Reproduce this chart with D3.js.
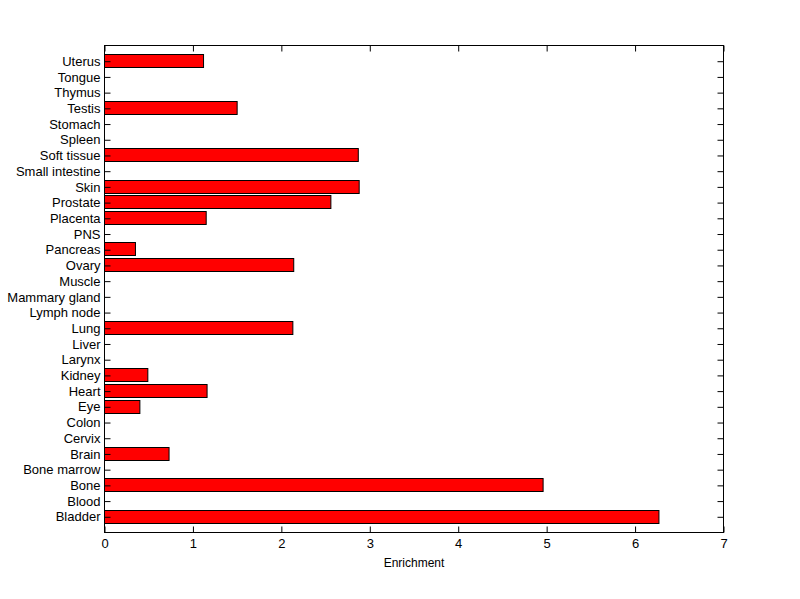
<!DOCTYPE html>
<meta charset="utf-8">
<script src="https://d3js.org/d3.v7.min.js"></script>
<style>
  body { margin: 0; background: #fff; }
  text { font-family: Arial, "Liberation Sans", sans-serif; font-size: 13px; fill: #000; }
</style>
<svg id="chart" width="800" height="599"></svg>
<script>

// categories, bottom to top
var tissues = ["Bladder", "Blood", "Bone", "Bone marrow", "Brain", "Cervix", "Colon", "Eye",
  "Heart", "Kidney", "Larynx", "Liver", "Lung", "Lymph node", "Mammary gland", "Muscle",
  "Ovary", "Pancreas", "PNS", "Placenta", "Prostate", "Skin", "Small intestine",
  "Soft tissue", "Spleen", "Stomach", "Testis", "Thymus", "Tongue", "Uterus"];

var enrichment = [6.27, 0, 4.96, 0, 0.73, 0, 0, 0.40,
  1.16, 0.49, 0, 0, 2.13, 0, 0, 0,
  2.14, 0.35, 0, 1.15, 2.56, 2.88, 0,
  2.87, 0, 0, 1.50, 0, 0, 1.12];

var xTicks = [0, 1, 2, 3, 4, 5, 6, 7];

var svg = d3.select("#chart");
var mLeft = 104.5, mRight = 723.5, mTop = 45.5, mBottom = 532.5;
var font = "Arial, 'Liberation Sans', sans-serif";

var x = d3.scaleLinear().domain([0, 7]).range([mLeft, mRight]);
// positions 1..n, axis limits 0..n+1 like matlab bar
var y = d3.scaleLinear().domain([0, tissues.length + 1]).range([mBottom, mTop]);
var barH = y(0) - y(0.8);

var data = tissues.map(function (t, i) { return { name: t, value: enrichment[i], pos: i + 1 }; });

// bars
svg.append("g")
  .selectAll("rect")
  .data(data.filter(function (d) { return d.value > 0; }))
  .enter()
  .append("rect")
    .attr("x", x(0))
    .attr("y", function (d) { return Math.round(y(d.pos) - barH / 2) - 0.5; })
    .attr("width", function (d) { return x(d.value) - x(0); })
    .attr("height", Math.round(barH))
    .attr("fill", "#ff0000")
    .attr("stroke", "#000")
    .attr("stroke-width", 1);

// box
svg.append("rect")
  .attr("x", mLeft).attr("y", mTop)
  .attr("width", mRight - mLeft).attr("height", mBottom - mTop)
  .attr("fill", "none").attr("stroke", "#000").attr("stroke-width", 1);

var tickLen = 6;

// x ticks bottom and top, inward
var xAxisB = d3.axisBottom(x).tickValues(xTicks).tickSizeInner(-tickLen).tickSizeOuter(0)
  .tickPadding(6).tickFormat(d3.format("d"));
var gxb = svg.append("g").attr("transform", "translate(0," + mBottom + ")").call(xAxisB);
gxb.select(".domain").remove();
gxb.selectAll("text").style("font-size", "13px").style("font-family", font);

var xAxisT = d3.axisTop(x).tickValues(xTicks).tickSizeInner(-tickLen).tickSizeOuter(0).tickFormat("");
var gxt = svg.append("g").attr("transform", "translate(0," + mTop + ")").call(xAxisT);
gxt.select(".domain").remove();

// y ticks left and right, inward
var yTickVals = data.map(function (d) { return d.pos; });
var yAxisL = d3.axisLeft(y).tickValues(yTickVals).tickSizeInner(-tickLen).tickSizeOuter(0)
  .tickPadding(4)
  .tickFormat(function (v) { return tissues[v - 1]; });
var gyl = svg.append("g").attr("transform", "translate(" + mLeft + ",0)").call(yAxisL);
gyl.select(".domain").remove();
gyl.selectAll("text").style("font-size", "13px").style("font-family", font);

var yAxisR = d3.axisRight(y).tickValues(yTickVals).tickSizeInner(-tickLen).tickSizeOuter(0).tickFormat("");
var gyr = svg.append("g").attr("transform", "translate(" + mRight + ",0)").call(yAxisR);
gyr.select(".domain").remove();

svg.selectAll(".tick line").attr("stroke", "#000");

// axis label
svg.append("text")
  .attr("x", (mLeft + mRight) / 2)
  .attr("y", 567)
  .attr("text-anchor", "middle")
  .style("font-size", "12px")
  .text("Enrichment");

</script>
